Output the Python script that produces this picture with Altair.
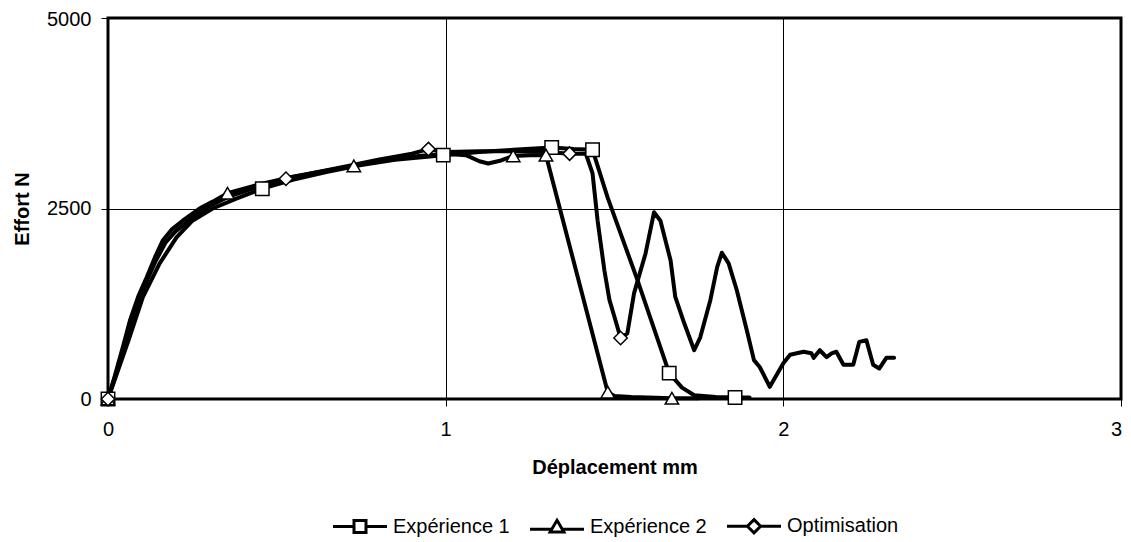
import altair as alt
import pandas as pd

series_names = ["Expérience 1", "Expérience 2", "Optimisation"]

exp1_x = [0, 0.03, 0.06, 0.103, 0.153, 0.203, 0.25, 0.31, 0.38, 0.457, 0.55, 0.65, 0.75, 0.85,
          0.993, 1.1, 1.2, 1.314, 1.38, 1.435, 1.48, 1.568, 1.662, 1.70, 1.736, 1.80, 1.857, 1.90]
exp1_y = [0, 380, 760, 1335, 1780, 2120, 2340, 2500, 2630, 2760, 2880, 2980, 3070, 3140,
          3200, 3240, 3270, 3300, 3280, 3270, 2640, 1560, 340, 150, 50, 25, 20, 20]
exp1_markers = [0, 9, 14, 17, 19, 22, 26]

exp2_x = [0, 0.02, 0.045, 0.065, 0.09, 0.115, 0.14, 0.162, 0.19, 0.221, 0.271, 0.31, 0.354,
          0.45, 0.55, 0.65, 0.728, 0.82, 0.92, 1.0, 1.06, 1.1, 1.126, 1.164, 1.2, 1.25, 1.297,
          1.48, 1.50, 1.55, 1.67, 1.75]
exp2_y = [0, 300, 700, 1030, 1350, 1600, 1870, 2080, 2230, 2340, 2500, 2590, 2700,
          2820, 2920, 3000, 3060, 3130, 3190, 3220, 3200, 3120, 3090, 3130, 3190, 3200, 3200,
          90, 40, 25, 10, 10]
exp2_markers = [0, 12, 16, 24, 26, 27, 30]

opt_x = [0, 0.02, 0.05, 0.08, 0.11, 0.14, 0.17, 0.2, 0.25, 0.3, 0.36, 0.44, 0.527, 0.6, 0.7,
         0.8, 0.9, 0.949, 1.0, 1.1, 1.2, 1.3, 1.367, 1.415, 1.435, 1.45, 1.47, 1.485, 1.503,
         1.518, 1.538, 1.558, 1.592, 1.617, 1.636, 1.666, 1.68, 1.706, 1.736, 1.754, 1.784,
         1.804, 1.818, 1.838, 1.862, 1.892, 1.913, 1.93, 1.96, 2.0, 2.02, 2.06, 2.083, 2.09,
         2.108, 2.128, 2.143, 2.157, 2.178, 2.207, 2.225, 2.246, 2.266, 2.284, 2.305, 2.328]
opt_y = [0, 280, 720, 1130, 1500, 1800, 2050, 2200, 2380, 2530, 2660, 2780, 2890, 2960, 3050,
         3140, 3220, 3280, 3240, 3250, 3250, 3240, 3220, 3220, 2960, 2340, 1690, 1300, 1030,
         800, 860, 1390, 1910, 2450, 2340, 1820, 1340, 1000, 640, 810, 1300,
         1730, 1920, 1780, 1430, 900, 510, 420, 160, 470, 580, 620, 600, 540,
         640, 550, 600, 620, 450, 450, 750, 770, 450, 400, 540, 540]
opt_markers = [0, 12, 17, 22, 29]

x_ticks = [0, 1, 2, 3]
y_ticks = [0, 2500, 5000]

marker_shapes = ["square", "triangle-up", "diamond"]
legend_shapes = [
    "M-4.5,0H-1M1,0H4.5M-1,-1H1V1H-1Z",
    "M-4.5,0.4H-0.8M0.8,0.4H4.5M0,-1.1L1.15,0.85H-1.15Z",
    "M-4.5,0H-1.1M1.1,0H4.5M0,-1.1L1.1,0L0,1.1L-1.1,0Z",
]

rows = []
for name, xs, ys, mk in [(series_names[0], exp1_x, exp1_y, exp1_markers),
                         (series_names[1], exp2_x, exp2_y, exp2_markers),
                         (series_names[2], opt_x, opt_y, opt_markers)]:
    for i, (xv, yv) in enumerate(zip(xs, ys)):
        rows.append({"serie": name, "x": xv, "y": yv, "idx": i, "marker": i in mk})
df = pd.DataFrame(rows)
df_markers = df[df["marker"]]
df_legend = pd.DataFrame({"serie": series_names, "x": [None] * 3, "y": [None] * 3})

FONT = "Liberation Sans"

x_enc = alt.X("x:Q", scale=alt.Scale(domain=[0, 3], nice=False),
              axis=alt.Axis(values=x_ticks, format="d", title="Déplacement mm",
                            labelPadding=13, titlePadding=18, labelFlush=False,
                            labelOffset={"condition": {"test": "datum.value === 3", "value": -5},
                                         "value": 0}))
y_enc = alt.Y("y:Q", scale=alt.Scale(domain=[0, 5000], nice=False),
              axis=alt.Axis(values=y_ticks, format="d", title="Effort N",
                            labelPadding=10, titlePadding=14, labelFlush=False,
                            labelOffset={"condition": {"test": "datum.value === 5000", "value": 1},
                                         "value": 0}))

lines = alt.Chart(df).mark_line(color="black", strokeWidth=4, strokeJoin="round",
                                strokeCap="round").encode(
    x=x_enc, y=y_enc, detail="serie:N", order="idx:Q")

points = alt.Chart(df_markers).mark_point(
    filled=True, fill="white", stroke="black", strokeWidth=1.5, size=180, opacity=1
).encode(
    x="x:Q", y="y:Q",
    shape=alt.Shape("serie:N", scale=alt.Scale(domain=series_names, range=marker_shapes),
                    legend=None))

legend_layer = alt.Chart(df_legend).mark_point(
    filled=False, color="black", strokeWidth=3, size=144, opacity=1
).encode(
    x="x:Q", y="y:Q",
    shape=alt.Shape("serie:N", scale=alt.Scale(domain=series_names, range=legend_shapes),
                    legend=alt.Legend(title=None, orient="none", legendX=222, legendY=498,
                                      direction="horizontal", symbolSize=144,
                                      symbolStrokeWidth=3, symbolOpacity=1,
                                      symbolOffset=20, labelOffset=23, columnPadding=14,
                                      labelFont=FONT, labelFontSize=20, labelColor="black",
                                      labelLimit=300)))

chart = alt.layer(lines, points, legend_layer).resolve_scale(shape="independent").properties(
    width=1013, height=381,
    autosize=alt.AutoSizeParams(type="none"),
    padding={"left": 100, "top": 10, "right": 2, "bottom": 142},
    background="white",
).configure_view(stroke="black", strokeWidth=3).configure_axis(
    grid=True, gridColor="black", gridWidth=1, gridOpacity=1,
    domain=False, tickColor="black", tickSize=7, tickWidth=1,
    labelFont=FONT, labelFontSize=20, labelColor="black",
    titleFont=FONT, titleFontSize=20, titleFontWeight="bold", titleColor="black",
)

chart.save("out.html", embed_options={"renderer": "svg", "actions": False})
